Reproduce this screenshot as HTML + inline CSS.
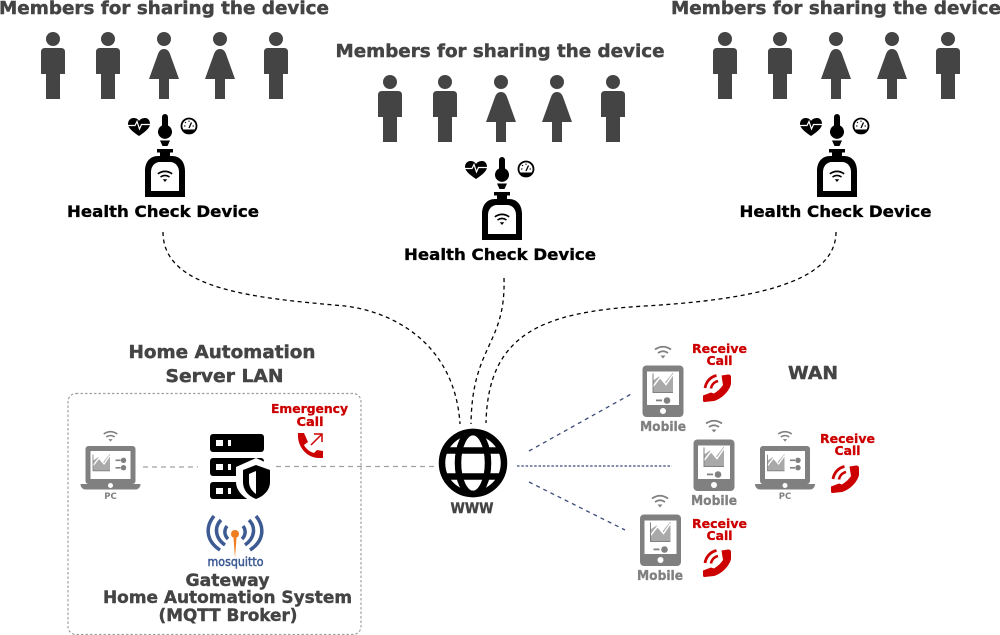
<!DOCTYPE html>
<html><head><meta charset="utf-8"><style>
html,body{margin:0;padding:0;background:#fff}
svg{display:block}
text{font-family:"DejaVu Sans",sans-serif;font-weight:bold;text-anchor:middle}
.t{fill:#444;stroke:#444;stroke-width:.45px;font-size:18px}
.g{fill:#444;stroke:#444;stroke-width:.4px;font-size:17px}
.r{fill:#c00;stroke:#c00;stroke-width:.3px;font-size:12.5px}
.m{fill:#808080;stroke:#808080;stroke-width:.3px;font-size:13px}
.h{fill:#000;stroke:#000;stroke-width:.35px;font-size:16px}
.p{fill:#808080;font-size:8.500px}
</style></head><body>
<svg width="1000" height="635" viewBox="0 0 1000 635" xmlns="http://www.w3.org/2000/svg">
<defs>
<g id="man"><circle cx="0" cy="39" r="7"/><path d="M-8 48H8Q12 48 12 52V74H7V99H-7V74H-12V52Q-12 48 -8 48Z"/></g>
<g id="woman"><circle cx="0" cy="39" r="7"/><path d="M0 49C3 49 5 51 6 54L15 79H5V99H-5V79H-15L-6 54C-5 51 -3 49 0 49Z"/></g>
<g id="people" fill="#444"><use href="#man" x="53"/><use href="#man" x="108"/><use href="#woman" x="164"/><use href="#woman" x="220"/><use href="#man" x="276"/></g>
<g id="wifi" fill="none">
<path d="M-8 -3.500Q0 -9 8 -3.500" stroke-width="1.800"/><path d="M-5 0Q0 -3.500 5 0" stroke-width="1.800"/><path d="M-2.500 2.500H2.500L0 5.500Z" stroke="none" fill="currentColor"/>
</g>
<g id="device">
<path d="M133.500 118C136 118 138 119 139 121C140 119 143 118 145 118C148.500 118 150 121 150 124C150 128 145 132 139 136C133 132 128 128 128 124C128 121 130 118 133.500 118Z"/>
<path d="M128 125.500H135L137 121.500L139.500 129L141.500 124.500H150" fill="none" stroke="#fff" stroke-width="1.200"/>
<path d="M162 117a3 3 0 0 1 6 0V125.500a7 7 0 1 1 -6 0Z"/>
<circle cx="189" cy="126" r="7.500" fill="#fff" stroke="#000" stroke-width="1.800"/>
<path d="M182.500 129.500H195.500L192.500 133H185.500Z"/><path d="M189 128L191.500 122.500" stroke="#000" stroke-width="1.300"/><path d="M184 126h1.500M192.500 126h1.500M189 120.500v1.500M185 122l1 1" stroke="#000" stroke-width=".9"/>
<path d="M160 140.500H170L167.500 146H162.500Z"/>
<path d="M157 149H173V152.500H170V156H172C180 156 185 162 185 171V197H145V171C145 162 150 156 158 156H160V152.500H157Z"/>
<path d="M151 172C151 166 155 162 160 162H170C175 162 179 166 179 172V191H151Z" fill="#fff"/>
<g color="#000" stroke="#000" transform="translate(165 177) scale(.9)"><use href="#wifi"/></g>
</g>
<g id="chart">
<path d="M-10 8V-4L-4 -8L2 -2L10 -12V8Z" fill="#a9a9a9" stroke="none"/>
<path d="M-10 2L-3 -7L3 0L10 -10" fill="none" stroke="#fff" stroke-width="1.500"/>
<path d="M-10 -11V8H10" fill="none" stroke="#808080" stroke-width="1"/>
</g>
<g id="mobile" fill="#808080">
<rect x="-20.500" y="-26" width="41" height="51.500" rx="4"/>
<rect x="-16" y="-20" width="32" height="33.500" fill="#fff"/>
<circle cx="0" cy="19.500" r="3" fill="#fff"/>
<g transform="translate(0 -7)"><use href="#chart"/></g>
<rect x="-7" y="8" width="6" height="1.800"/><circle cx="4" cy="9" r="3.300"/>
</g>
<g id="pc" fill="#808080">
<rect x="-25" y="-27" width="50" height="38" rx="3"/>
<rect x="-20" y="-22" width="40" height="28" fill="#fff"/>
<path d="M-30 11H30C30 14 28 16.500 25 16.500H-25C-28 16.500 -30 14 -30 11Z"/>
<circle cx="0" cy="12.500" r="2.500" fill="#fff"/>
<g transform="translate(-9 -9) scale(.85)"><use href="#chart"/></g>
<rect x="5" y="-13.500" width="5" height="1.600"/><circle cx="13" cy="-12.700" r="2.700"/>
<rect x="5" y="-6" width="5" height="1.600"/><circle cx="13" cy="-5.300" r="2.700"/>
</g>
<g id="recv" fill="#c00">
<path d="M18.500 1.500L25 .5C27 .5 28 1.500 28 3V10C26 18 18 25 11 27L1.500 28C.5 28 0 27.500 0 26.500V21.500L8 18.500L11 19.500C15 17 18 14 20 11L19.500 8Z"/>
<path d="M2 14C3 8 7 3 13.500 1.500" fill="none" stroke="#c00" stroke-width="2.800"/>
<path d="M8 14.500C8.500 11 11 8 15 7" fill="none" stroke="#c00" stroke-width="2.600"/>
</g>
</defs>

<text class="t" x="164" y="14" textLength="330" lengthAdjust="spacingAndGlyphs">Members for sharing the device</text>
<text class="t" x="836" y="14" textLength="330" lengthAdjust="spacingAndGlyphs">Members for sharing the device</text>
<text class="t" x="500" y="57" textLength="329" lengthAdjust="spacingAndGlyphs">Members for sharing the device</text>

<use href="#people"/>
<use href="#people" x="337" y="43"/>
<use href="#people" x="672"/>

<use href="#device"/>
<use href="#device" x="337" y="43"/>
<use href="#device" x="672"/>

<text class="h" x="163" y="217" textLength="192" lengthAdjust="spacingAndGlyphs">Health Check Device</text>
<text class="h" x="500" y="260" textLength="192" lengthAdjust="spacingAndGlyphs">Health Check Device</text>
<text class="h" x="835.500" y="217" textLength="192" lengthAdjust="spacingAndGlyphs">Health Check Device</text>

<g fill="none" stroke="#000" stroke-width="1.300" stroke-dasharray="4 3.500">
<path d="M163 232C163 290 255 298 345 306C395 312 455 345 460 424"/>
<path d="M504 278C506 345 472 345 471 424"/>
<path d="M836 232C836 285 745 300 645 306C540 312 488 335 486 423"/>
</g>
<g fill="none" stroke="#3b4a7a" stroke-width="1.300">
<path d="M529 451L633 393" stroke-dasharray="4 4"/>
<path d="M517 466H672" stroke-dasharray="2.500 1.800"/>
<path d="M529 482L625 530" stroke-dasharray="4 4"/>
</g>
<g fill="none" stroke="#a0a0a0" stroke-width="1.200">
<path d="M143 467H198" stroke-dasharray="5 4"/>
<path d="M276 466.500H435" stroke-dasharray="5 4"/>
<rect x="68" y="393.500" width="293" height="241" rx="8" stroke-dasharray="2.500 2"/>
</g>

<!-- globe -->
<g fill="none" stroke="#000" stroke-width="6.500">
<circle cx="473" cy="463" r="31"/>
<ellipse cx="473" cy="463" rx="15" ry="31"/>
<path d="M445 450.500H501M445 476.500H501"/>
</g>
<text x="472" y="513" style="font-size:14px;fill:#444;stroke:#444;stroke-width:.4px" textLength="43" lengthAdjust="spacingAndGlyphs">WWW</text>

<!-- LAN -->
<text class="t" x="222" y="358" textLength="187" lengthAdjust="spacingAndGlyphs">Home Automation</text>
<text class="t" x="224.500" y="382" textLength="118" lengthAdjust="spacingAndGlyphs">Server LAN</text>
<text class="t" x="813" y="379" textLength="50" lengthAdjust="spacingAndGlyphs">WAN</text>

<use href="#pc" x="110.500" y="473"/>
<g color="#808080" stroke="#808080" transform="translate(110.500 437) scale(.85)"><use href="#wifi"/></g>
<text class="p" x="110.500" y="499">PC</text>

<g>
<rect x="210" y="434" width="54" height="18" rx="3"/>
<rect x="210" y="458" width="54" height="18" rx="3"/>
<rect x="210" y="482" width="54" height="17" rx="3"/>
<g fill="#fff"><rect x="216" y="440" width="7" height="6"/><rect x="228" y="440" width="3" height="6"/><rect x="216" y="464" width="7" height="6"/><rect x="228" y="464" width="3" height="6"/><rect x="216" y="488" width="7" height="6"/><rect x="228" y="488" width="3" height="6"/></g>
<path d="M256 458L276 467V482C276 492 266 500 256 503C246 500 236 492 236 482V467Z" fill="#fff"/>
<path d="M256 465L270 470V482C270 490 264 496 256 499C248 496 243 490 243 482V470Z"/>
<path d="M249 474L256 471V494C252 491 249 487 249 482Z" fill="#fff"/>
</g>

<!-- mosquitto -->
<g fill="none" stroke="#3d5a93" stroke-width="3.500">
<path d="M214 516C205 527 206 541 220 550"/>
<path d="M221 520C214 527 215 538 225 545"/>
<path d="M227 526C224 530 224 535 228 539"/>
<path d="M256 516C265 527 264 541 250 550"/>
<path d="M249 520C256 527 255 538 245 545"/>
<path d="M243 526C246 530 246 535 242 539"/>
</g>
<path d="M233.500 538L236.500 538L235 558Z" fill="#ef7d22"/><circle cx="235" cy="534" r="4" fill="#ef7d22"/>
<text x="235.500" y="566" style="font-size:12px;font-weight:normal;fill:#3d5a93;stroke:#3d5a93;stroke-width:.5px" textLength="56" lengthAdjust="spacingAndGlyphs">mosquitto</text>

<text class="g" x="227.500" y="586" textLength="84" lengthAdjust="spacingAndGlyphs">Gateway</text>
<text class="g" x="227.500" y="603" textLength="249" lengthAdjust="spacingAndGlyphs">Home Automation System</text>
<text class="g" x="228" y="621" textLength="139" lengthAdjust="spacingAndGlyphs">(MQTT Broker)</text>

<text class="r" x="309.500" y="413" textLength="77" lengthAdjust="spacingAndGlyphs">Emergency</text>
<text class="r" x="310" y="426" textLength="27" lengthAdjust="spacingAndGlyphs">Call</text>
<g fill="#c00">
<path d="M298 433H304L308 442L304 445C306 449 310 452 314 453L317 450L323 451V458H319C307 458 298 447 298 436Z"/>
<path d="M311 445L321 435M314 434H322V442" fill="none" stroke="#c00" stroke-width="1.500"/>
</g>

<!-- WAN devices -->
<use href="#mobile" x="663" y="391.500"/>
<use href="#mobile" x="714" y="465.500"/>
<use href="#mobile" x="660.500" y="540.500"/>
<g color="#808080" stroke="#808080">
<g transform="translate(663 353)"><use href="#wifi"/></g>
<g transform="translate(714 427)"><use href="#wifi"/></g>
<g transform="translate(660 502)"><use href="#wifi"/></g>
<g transform="translate(785 437) scale(.85)"><use href="#wifi"/></g>
</g>
<text class="m" x="663" y="431" textLength="46" lengthAdjust="spacingAndGlyphs">Mobile</text>
<text class="m" x="714" y="505" textLength="46" lengthAdjust="spacingAndGlyphs">Mobile</text>
<text class="m" x="660" y="580" textLength="46" lengthAdjust="spacingAndGlyphs">Mobile</text>

<use href="#pc" x="785" y="473"/>
<text class="p" x="785" y="499">PC</text>

<text class="r" x="719.500" y="353" textLength="55" lengthAdjust="spacingAndGlyphs">Receive</text>
<text class="r" x="719.500" y="365" textLength="26" lengthAdjust="spacingAndGlyphs">Call</text>
<text class="r" x="847.500" y="443" textLength="55" lengthAdjust="spacingAndGlyphs">Receive</text>
<text class="r" x="847.500" y="455" textLength="26" lengthAdjust="spacingAndGlyphs">Call</text>
<text class="r" x="719.500" y="528" textLength="55" lengthAdjust="spacingAndGlyphs">Receive</text>
<text class="r" x="719.500" y="540" textLength="26" lengthAdjust="spacingAndGlyphs">Call</text>
<use href="#recv" x="703" y="374"/>
<use href="#recv" x="831" y="465"/>
<use href="#recv" x="703" y="549"/>
</svg>
</body></html>
